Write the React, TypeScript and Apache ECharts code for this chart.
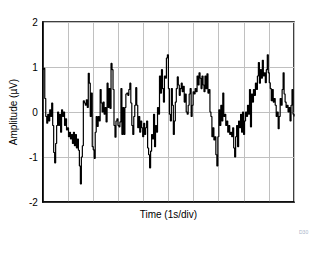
import React, { useEffect, useRef } from "react";
import * as echarts from "echarts";

// Amplitude samples (µV), evenly spaced across 10 s (1 s/div)
const amplitude: number[] = [
  0.95, 0.97, 0.3, -0.1, -0.25, -0.05, -0.2, 0.05, -0.1, 0.2,
  -0.3, -0.9, -1.13, -0.7, -0.3, 0.0, -0.3, -0.05, -0.45, 0.05,
  -0.1, 0.0, -0.3, -0.15, -0.4, -0.35, -0.55, -0.45, -0.6, -0.5,
  -0.7, -0.45, -0.75, -0.5, -0.8, -0.6, -0.85, -1.2, -1.6, -1.0,
  -0.75, 0.25, 0.2, 0.15, 0.27, 0.1, 0.86, 0.64, -0.1, 0.42,
  -0.77, -0.84, -1.03, -0.45, -0.1, -0.32, -0.1, -0.2, 0.5, 0.2,
  0.0, 0.22, -0.05, 0.1, -0.22, 0.64, 0.1, 0.52, 0.08, 1.08,
  0.94, 0.5, -0.3, -0.56, -0.2, -0.15, -0.3, -0.33, -0.22, 0.52,
  -0.5, 0.1, -0.5, 0.1, 0.4, 0.42, 0.37, 0.5, 0.64, 0.2,
  -0.3, -0.5, -0.1, 0.15, 0.54, 0.15, -0.35, -0.1, -0.45, -0.2,
  -0.35, -0.55, -0.25, -0.5, -0.35, -0.2, -0.8, -0.95, -1.24, -0.87,
  -0.5, -0.6, -0.05, -0.77, -0.3, -0.45, 0.1, -0.05, 0.8, 0.42,
  0.94, 0.52, 0.22, 0.8, 0.75, 1.2, 1.27, 0.52, -0.05, -0.2,
  0.52, 0.15, -0.5, -0.2, 0.22, 0.52, 0.78, 0.6, 0.37, 0.52,
  0.64, 0.45, 0.57, 0.22, 0.4, 0.0, -0.05, 0.15, 0.4, 0.52,
  -0.1, 0.15, 0.45, 0.4, 0.52, 0.45, 0.8, 0.6, 0.87, 0.75,
  0.52, 0.8, 0.6, 0.45, 0.8, 0.52, 0.85, 0.42, 0.5, 0.0,
  -0.1, -0.55, -0.35, -0.62, -0.55, -0.95, -1.2, -0.55, 0.05, -0.3,
  0.15, -0.2, 0.42, -0.1, -0.05, -0.3, -0.2, -0.45, -0.3, -0.5,
  -0.45, -0.55, -0.35, -0.8, -1.0, -0.55, -0.3, -0.77, -0.2, -0.35,
  -0.05, -0.45, 0.0, -0.5, -0.2, 0.0, -0.1, 0.15, -0.05, 0.5,
  -0.33, 0.4, 0.22, 0.5, 0.37, 0.64, 0.5, 0.8, 1.1, 0.64,
  0.94, 0.75, 1.15, 0.8, 0.87, 0.65, 0.94, 1.27, 0.87, 0.65,
  0.52, 0.25, 0.5, 0.22, 0.3, 0.15, -0.1, 0.0, -0.37, -0.1,
  0.3, 0.15, 0.5, 0.87, 0.4, 0.22, 0.1, 0.15, 0.0, 0.1,
  -0.2, 0.15, 0.5, -0.05, -0.1,
];

const timeSpan = 10; // seconds shown (10 divisions of 1 s)
const yTicks = [-2, -1, 0, 1, 2];
const xLabel = "Time (1s/div)";
const yLabel = "Amplitude (\u00b5V)";
const watermark = "D30";

export default function App() {
  const ref = useRef<HTMLDivElement>(null);

  useEffect(() => {
    if (!ref.current) return;
    const chart = echarts.init(ref.current, undefined, { renderer: "svg" });
    const n = amplitude.length;
    const data = amplitude.map((v, i) => [(i * timeSpan) / (n - 1), v]);
    const font = "Arial, 'Liberation Sans', sans-serif";
    chart.setOption({
      animation: false,
      backgroundColor: "#ffffff",
      grid: {
        left: 40,
        right: 33,
        top: 22,
        bottom: 52,
        show: true,
        borderColor: "#000000",
        borderWidth: 1.5,
      },
      xAxis: {
        type: "value",
        min: 0,
        max: timeSpan,
        interval: 1,
        name: xLabel,
        nameLocation: "middle",
        nameGap: 7,
        nameTextStyle: { color: "#000", fontSize: 10, fontFamily: font },
        axisLine: { show: true, onZero: false, lineStyle: { color: "#000", width: 1.5 } },
        axisTick: { show: false },
        axisLabel: { show: false },
        splitLine: { show: true, lineStyle: { color: "#c0c0c0", width: 1 } },
      },
      yAxis: {
        type: "value",
        min: yTicks[0],
        max: yTicks[yTicks.length - 1],
        interval: 1,
        name: yLabel,
        nameLocation: "middle",
        nameGap: 20,
        nameRotate: 90,
        nameTextStyle: { color: "#000", fontSize: 10, fontFamily: font },
        axisLine: { show: true, onZero: false, lineStyle: { color: "#000", width: 1.5 } },
        axisTick: { show: false },
        axisLabel: {
          color: "#000",
          fontSize: 10,
          fontFamily: font,
          margin: 5,
        },
        splitLine: { show: true, lineStyle: { color: "#c0c0c0", width: 1 } },
      },
      graphic: [
        {
          type: "text",
          left: 299,
          top: 229,
          style: {
            text: watermark,
            fill: "#a8b4c8",
            fontSize: 5,
            fontFamily: font,
          },
        },
      ],
      series: [
        {
          type: "line",
          data,
          step: "end",
          showSymbol: false,
          symbol: "none",
          lineStyle: { color: "#000000", width: 1.2 },
          z: 3,
        },
      ],
    });
    return () => chart.dispose();
  }, []);

  return (
    <div
      ref={ref}
      style={{ width: 327, height: 254, position: "absolute", left: 0, top: 0 }}
    />
  );
}
